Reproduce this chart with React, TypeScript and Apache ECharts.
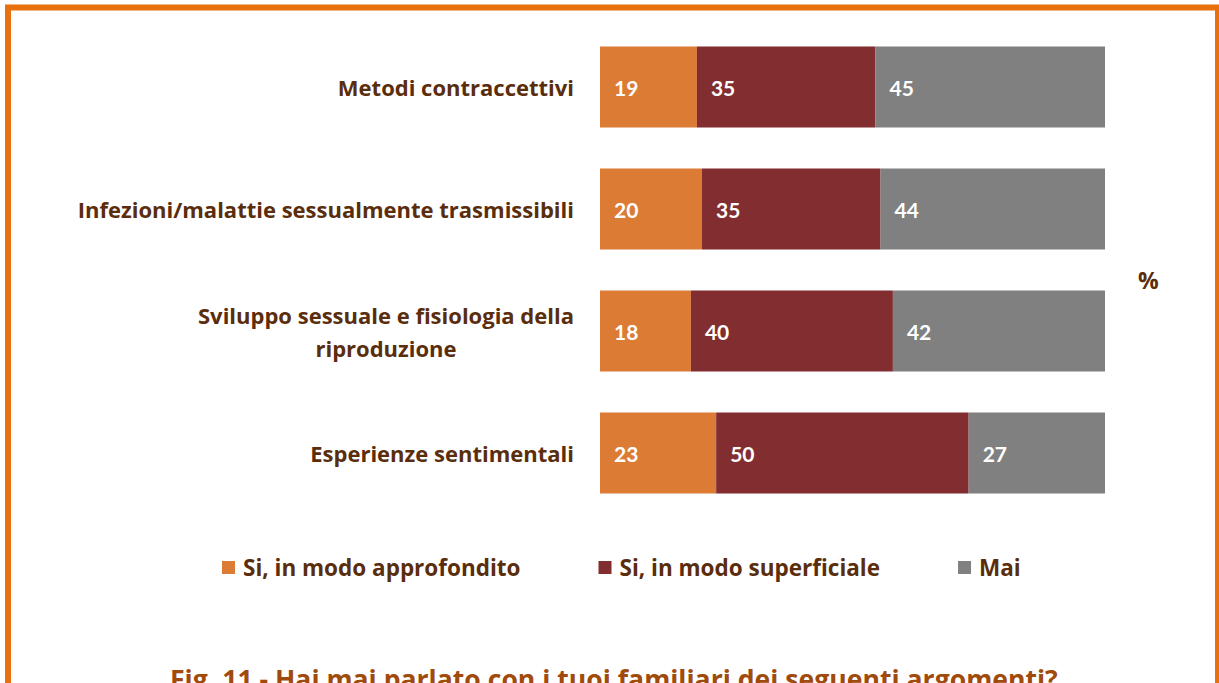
import React, { useEffect, useRef } from "react";
import * as echarts from "echarts";

const categories = [
  "Metodi contraccettivi",
  "Infezioni/malattie sessualmente trasmissibili",
  "Sviluppo sessuale e fisiologia della\nriproduzione",
  "Esperienze sentimentali",
];
const seriesNames = ["Si, in modo approfondito", "Si, in modo superficiale", "Mai"];
const approfondito = [19, 20, 18, 23];
const superficiale = [35, 35, 40, 50];
const mai = [45, 44, 42, 27];
const colors = ["#DC7B34", "#822D30", "#808080"];
const titleText = "Fig. 11 - Hai mai parlato con i tuoi familiari dei seguenti argomenti?";

const FONT = "Open Sans";
const BROWN = "#5A2D0C";

export default function App() {
  const ref = useRef<HTMLDivElement>(null);
  useEffect(() => {
    if (!ref.current) return;
    const chart = echarts.init(ref.current, undefined, { renderer: "svg" });
    const raw = [approfondito, superficiale, mai];
    const totals = categories.map((_, i) => raw.reduce((s, arr) => s + arr[i], 0));

    const canvas = document.createElement("canvas");
    const ctx = canvas.getContext("2d")!;
    ctx.font = `bold 22px "${FONT}"`;

    const labelFormatter = (v: string) => {
      if (v.indexOf("\n") < 0) return v;
      return v.split("\n").map((l) => `{c|${l}}`).join("\n");
    };
    const multiWidth = Math.ceil(
      Math.max(
        ...categories
          .filter((c) => c.indexOf("\n") >= 0)
          .flatMap((c) => c.split("\n"))
          .map((l) => ctx.measureText(l).width)
      )
    );

    const series = raw.map((arr, si) => ({
      name: seriesNames[si],
      type: "bar",
      stack: "total",
      barWidth: 81,
      itemStyle: { color: colors[si] },
      data: arr.map((v, i) => (v / totals[i]) * 100),
      label: {
        show: true,
        position: "insideLeft",
        distance: 14,
        color: "#FFFFFF",
        fontFamily: "Lato",
        fontWeight: "bold",
        fontSize: 21,
        formatter: (p: any) => String(arr[p.dataIndex]),
      },
    }));

    chart.setOption({
      animation: false,
      grid: { left: 600, right: 114, top: 26, height: 488, containLabel: false },
      xAxis: { type: "value", min: 0, max: 100, show: false },
      yAxis: {
        type: "category",
        inverse: true,
        data: categories,
        axisLine: { show: false },
        axisTick: { show: false },
        axisLabel: {
          margin: 26,
          color: BROWN,
          fontFamily: FONT,
          fontWeight: "bold",
          fontSize: 22,
          lineHeight: 33,
          formatter: labelFormatter,
          rich: {
            c: {
              width: multiWidth,
              align: "center",
              color: BROWN,
              fontFamily: FONT,
              fontWeight: "bold",
              fontSize: 22,
              lineHeight: 33,
            },
          },
        },
      },
      legend: {
        left: 222,
        top: 556,
        padding: 0,
        itemWidth: 13,
        itemHeight: 13,
        itemGap: 78,
        icon: "rect",
        data: seriesNames,
        textStyle: { color: BROWN, fontFamily: FONT, fontWeight: "bold", fontSize: 22.5, padding: [0, 0, 0, 3] },
      },
      graphic: [
        {
          type: "rect",
          shape: { x: 8, y: 7.5, width: 1210, height: 800 },
          style: { fill: "none", stroke: "#E8710E", lineWidth: 6 },
          silent: true,
        },
        {
          type: "text",
          x: 1138,
          y: 280,
          style: { text: "%", fill: BROWN, font: `bold 23px "${FONT}"`, verticalAlign: "middle" },
        },
        {
          type: "text",
          x: 170,
          y: 665,
          style: { text: titleText, fill: "#A04A0C", font: `bold 26.6px "${FONT}"`, verticalAlign: "top" },
        },
      ],
      series,
    });
    return () => chart.dispose();
  }, []);
  return (
    <div
      ref={ref}
      style={{ position: "absolute", left: 0, top: 0, width: 1219, height: 683, background: "#fff" }}
    />
  );
}
